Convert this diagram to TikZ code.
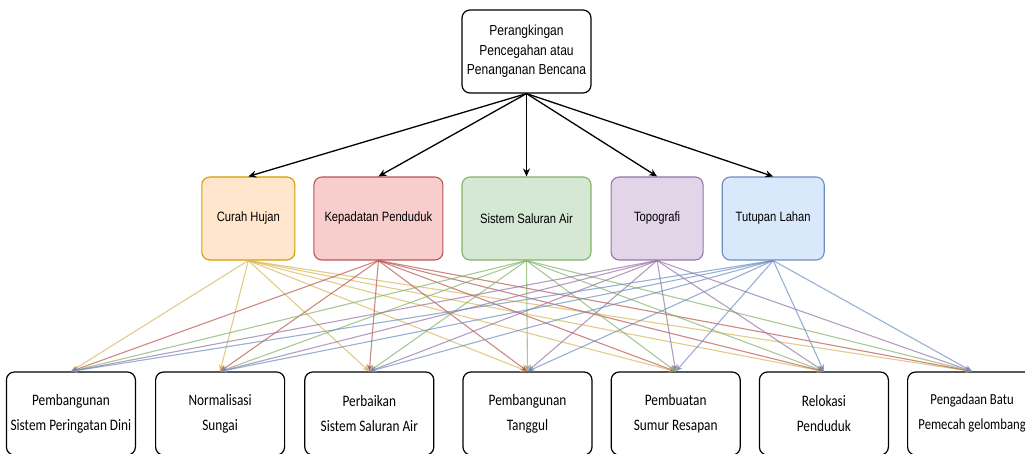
\documentclass[tikz,border=0pt]{standalone}
\usepackage{fontspec}
\setmainfont[FakeStretch=0.83]{Liberation Sans}
\newfontfamily\optfont[FakeStretch=0.83]{Carlito}
\usetikzlibrary{arrows.meta, positioning}
\definecolor{hujanfill}{HTML}{FFE6CC}
\definecolor{hujandraw}{HTML}{D79B00}
\definecolor{hujanline}{HTML}{D6B656}
\definecolor{padatfill}{HTML}{F8CECC}
\definecolor{padatdraw}{HTML}{B85450}
\definecolor{airfill}{HTML}{D5E8D4}
\definecolor{airdraw}{HTML}{82B366}
\definecolor{topofill}{HTML}{E1D5E7}
\definecolor{topodraw}{HTML}{9673A6}
\definecolor{lahanfill}{HTML}{DAE8FC}
\definecolor{lahandraw}{HTML}{6C8EBF}
\tikzset{
	goal/.style={
		rectangle,
		rounded corners=8pt,
		minimum width=129pt,
		minimum height=83pt,
		inner sep=0pt,
		align=center,
		draw=black,
		line width=1.2pt,
		font=\fontsize{14.5}{19.5}\selectfont
	},
	criterion/.style={
		rectangle,
		rounded corners=8pt,
		minimum height=83pt,
		inner sep=0pt,
		align=center,
		line width=1.1pt,
		font=\fontsize{13.5}{16}\selectfont
	},
	option/.style={
		rectangle,
		rounded corners=8pt,
		minimum width=129pt,
		minimum height=83pt,
		inner sep=0pt,
		align=center,
		draw=black,
		line width=1.2pt,
		font=\optfont\fontsize{16}{25}\selectfont
	},
	toparrow/.style={line width=1.3pt, -{Stealth[length=8pt,width=7pt]}},
	link/.style={line width=1.1pt, draw opacity=.7, -{Stealth[length=7pt,width=6pt]}}
}

\begin{document}
\begin{tikzpicture}[x=1pt, y=-1pt]
	\useasboundingbox (0,0) rectangle (1025,454);
	\node (goal) [goal] at (526.5,51.5) {Perangkingan\\Pencegahan atau\\Penanganan Bencana};
	
	% criteria
	\node (air) [criterion, minimum width=129pt, draw=airdraw, fill=airfill] at (526.5,218.5) {Sistem Saluran Air};
	\node (padat) [criterion, minimum width=129pt, draw=padatdraw, fill=padatfill, left=18pt of air] {Kepadatan Penduduk};
	\node (hujan) [criterion, minimum width=93pt, draw=hujandraw, fill=hujanfill, left=18pt of padat] {Curah Hujan};
	\node (topo) [criterion, minimum width=92pt, draw=topodraw, fill=topofill, right=19pt of air] {Topografi};
	\node (lahan) [criterion, minimum width=102pt, draw=lahandraw, fill=lahanfill, right=18pt of topo] {Tutupan Lahan};
	
	% alternatives
	\node (tanggul) [option] at (527.5,413.5) {Pembangunan\\Tanggul};
	\node (saluran) [option, left=28pt of tanggul] {Perbaikan\\Sistem Saluran Air};
	\node (sungai) [option, left=19pt of saluran] {Normalisasi\\Sungai};
	\node (dini) [option, left=19pt of sungai] {Pembangunan\\Sistem Peringatan Dini};
	\node (resapan) [option, right=18pt of tanggul] {Pembuatan\\Sumur Resapan};
	\node (relokasi) [option, right=18pt of resapan] {Relokasi\\Penduduk};
	\node (batu) [option, right=18pt of relokasi, font=\optfont\fontsize{15.3}{25}\selectfont] {Pengadaan Batu\\Pemecah gelombang};
	
	\foreach \c in {hujan, padat, air, topo, lahan}
		\draw [toparrow] (goal.south) -- (\c.north);
	
	\foreach \c/\col in {hujan/hujanline, padat/padatdraw, air/airdraw, topo/topodraw, lahan/lahandraw}
		\foreach \a in {dini, sungai, saluran, tanggul, resapan, relokasi, batu}
			\draw [link, draw=\col] (\c.south) -- (\a.north);
\end{tikzpicture}
\end{document}
